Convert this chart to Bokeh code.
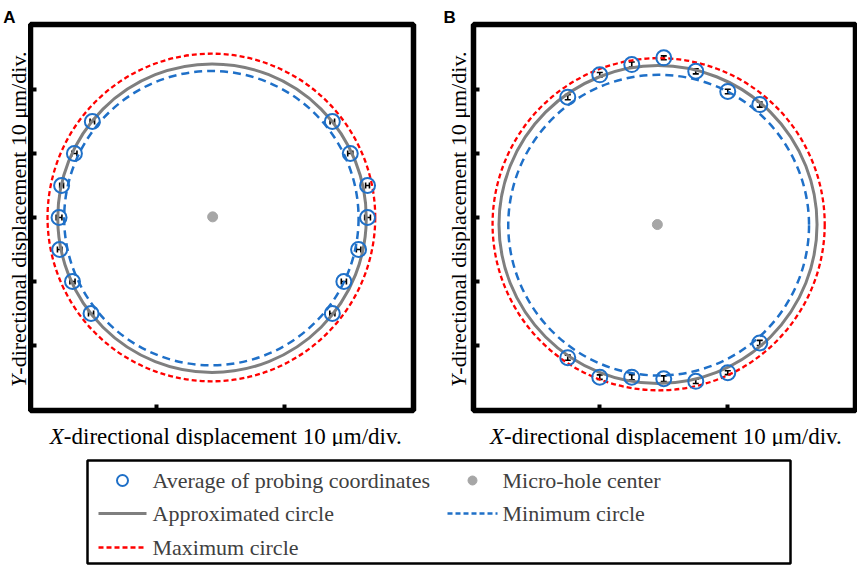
from math import pi
from bokeh.plotting import figure
from bokeh.models import Range1d, FixedTicker, ColumnDataSource, Whisker, TeeHead
from bokeh.layouts import row, column
from bokeh.embed import file_html
from bokeh.resources import INLINE
from bokeh.core.properties import value

# ---------------- data (micrometres) ----------------
# Panel A: probing along fixed Y levels
a_probe_x = [-20.0, -22.8, -24.8, -25.2, -25.1, -23.1, -20.2,
             17.5, 20.3, 23.0, 23.0, 21.6, 19.3, 17.5]
a_probe_y = [15, 10, 5, 0, -5, -10, -15,
             15, 10, 5, 0, -5, -10, -15]
a_probe_err = [0.35, 0.4, 0.3, 0.45, 0.35, 0.4, 0.4,
               0.35, 0.4, 0.3, 0.45, 0.35, 0.4, 0.4]
a_hole = [-1.2, 0.1]
a_approx = [-1.3, -0.1, 24.1]    # centre x, centre y, radius
a_minimum = [-1.4, -0.1, 23.0]
a_maximum = [-1.4, 0.0, 25.6]

# Panel B: probing along fixed X levels
b_probe_x = [-15, -10, -5, 0, 5, 10, 15,
             -15, -10, -5, 0, 5, 10, 15]
b_probe_y = [18.8, 22.3, 23.9, 24.95, 22.85, 19.7, 17.65,
             -21.9, -24.95, -24.95, -25.2, -25.6, -24.25, -19.6]
b_probe_err = [0.4, 0.35, 0.4, 0.3, 0.4, 0.35, 0.4,
               0.4, 0.35, 0.4, 0.45, 0.35, 0.3, 0.4]
b_hole = [-1.0, -1.1]
b_approx = [-0.9, -1.1, 24.85]
b_minimum = [-0.8, -1.2, 23.5]
b_maximum = [-0.8, -1.05, 25.95]

y_ticks = [-20, -10, 0, 10, 20]
x_ticks = [-10, 10]
x_label_var = "X"
y_label_var = "Y"
label_rest = "-directional displacement 10 μm/div."
legend_labels = ["Average of probing coordinates", "Micro-hole center",
                 "Approximated circle", "Minimum circle", "Maximum circle"]

# ---------------- styles ----------------
BLUE = "#1f70c8"
RED = "#ff0000"
GRAY = "#7f7f7f"
HOLE = "#a6a6a6"
SERIF = "Liberation Serif"
SANS = "Liberation Sans"

Y_RANGE = (-30.16, 30.16)
TOP_H = 446
PANEL_H = 416
XLAB_H = TOP_H - PANEL_H
LEG_H = 120


def make_panel(width, bl, br, xr, px, py, perr, err_dim, hole, approx, mn, mx):
    p = figure(width=width, height=PANEL_H, x_range=Range1d(*xr), y_range=Range1d(*Y_RANGE),
               output_backend="svg", toolbar_location=None, title=None,
               min_border_left=bl, min_border_right=br, min_border_top=24, min_border_bottom=6)
    p.grid.visible = False
    p.outline_line_color = "black"
    p.outline_line_width = 5.5
    p.xaxis.ticker = FixedTicker(ticks=x_ticks)
    p.yaxis.ticker = FixedTicker(ticks=y_ticks)
    for ax in p.axis:
        ax.axis_line_color = None
        ax.major_tick_in = 6
        ax.major_tick_out = 0
        ax.major_tick_line_width = 4
        ax.major_tick_line_color = "black"
        ax.minor_tick_line_color = None
        ax.major_label_text_font_size = "1px"
        ax.major_label_text_color = None
        ax.major_label_standoff = 0

    # circles
    p.circle(x=[mx[0]], y=[mx[1]], radius=mx[2], fill_color=None, line_color=RED,
             line_width=2.3, line_dash="5 3")
    p.circle(x=[mn[0]], y=[mn[1]], radius=mn[2], fill_color=None, line_color=BLUE,
             line_width=2.5, line_dash="8 5")
    p.circle(x=[approx[0]], y=[approx[1]], radius=approx[2], fill_color=None,
             line_color=GRAY, line_width=3)
    # micro-hole centre
    p.scatter(x=[hole[0]], y=[hole[1]], size=10, marker="circle", color=HOLE)
    # probing averages
    p.scatter(x=px, y=py, size=15, marker="circle", fill_color=None,
              line_color=BLUE, line_width=2)
    # error bars
    if err_dim == "width":
        src = ColumnDataSource(dict(base=py, lo=[a - e for a, e in zip(px, perr)],
                                    hi=[a + e for a, e in zip(px, perr)]))
    else:
        src = ColumnDataSource(dict(base=px, lo=[a - e for a, e in zip(py, perr)],
                                    hi=[a + e for a, e in zip(py, perr)]))
    w = Whisker(source=src, base="base", lower="lo", upper="hi", dimension=err_dim,
                line_color="black", line_width=1.6,
                upper_head=TeeHead(size=6, line_width=1.6, line_color="black"),
                lower_head=TeeHead(size=6, line_width=1.6, line_color="black"))
    p.add_layout(w)
    return p


def blank(width, height, flip=False):
    yr = Range1d(height, 0) if flip else Range1d(0, height)
    p = figure(width=width, height=height, x_range=Range1d(0, width), y_range=yr,
               output_backend="svg", toolbar_location=None, title=None, min_border=0,
               x_axis_type=None, y_axis_type=None)
    p.outline_line_color = None
    p.grid.visible = False
    return p


def y_strip(width, letter, letter_x, base_x):
    s = blank(width, TOP_H)
    s.text(x=[letter_x], y=[TOP_H - 16.8], text=[letter], text_font=value(SANS),
           text_font_style="bold", text_font_size="17px", text_color="black",
           text_align="left", text_baseline="alphabetic")
    jy = TOP_H - 374.2
    s.text(x=[base_x], y=[jy], text=[y_label_var], angle=pi / 2, text_font=value(SERIF),
           text_font_style="italic", text_font_size="22px", text_color="black",
           text_align="right", text_baseline="alphabetic")
    s.text(x=[base_x], y=[jy], text=[label_rest], angle=pi / 2, text_font=value(SERIF),
           text_font_size="22px", text_color="black",
           text_align="left", text_baseline="alphabetic")
    return s


def x_strip(width, junction_x):
    s = blank(width, XLAB_H)
    s.text(x=[junction_x], y=[10.0], text=[x_label_var], text_font=value(SERIF),
           text_font_style="italic", text_font_size="23px", text_color="black",
           text_align="right", text_baseline="alphabetic")
    s.text(x=[junction_x], y=[10.0], text=[label_rest], text_font=value(SERIF),
           text_font_size="23px", text_color="black",
           text_align="left", text_baseline="alphabetic")
    return s


# panel A: strip 0..28, figure 28..440 (frame 30..413)
pA = make_panel(412, 2, 27, (-29.66, 30.18), a_probe_x, a_probe_y, a_probe_err,
                "width", a_hole, a_approx, a_minimum, a_maximum)
# panel B: strip 440..470, figure 470..857 (frame 473..855)
pB = make_panel(387, 3, 2, (-29.73, 29.96), b_probe_x, b_probe_y, b_probe_err,
                "height", b_hole, b_approx, b_minimum, b_maximum)

sA = y_strip(28, "A", 2.7, 18.0)
sB = y_strip(30, "B", 3, 18.0)
xA = x_strip(412, 35.9)
xB = x_strip(387, 30.9)

# ---------------- legend panel ----------------
pl = blank(857, LEG_H, flip=True)
r1, r2, r3 = 34, 67, 101
pl.quad(left=[87], right=[790], top=[14], bottom=[117], fill_color=None,
        line_color="black", line_width=2.5)
pl.scatter(x=[122], y=[r1], size=11, marker="circle", fill_color=None,
           line_color=BLUE, line_width=2)
pl.line(x=[98, 146], y=[r2, r2], line_color=GRAY, line_width=3)
pl.line(x=[98, 146], y=[r3, r3], line_color=RED, line_width=2.3, line_dash="5 3")
pl.scatter(x=[472], y=[r1], size=9, marker="circle", color=HOLE)
pl.line(x=[447, 497], y=[r2, r2], line_color=BLUE, line_width=2.5, line_dash="5 3")
pl.text(x=[152, 502, 152, 502, 152], y=[r1, r1, r2, r2, r3], text=legend_labels,
        text_font=value(SERIF), text_font_size="22px", text_color="#404040",
        text_baseline="middle", text_align="left")

top = row(sA, column(pA, xA), sB, column(pB, xB))
layout = column(top, pl)
open("out.html", "w").write(file_html(layout, INLINE))
